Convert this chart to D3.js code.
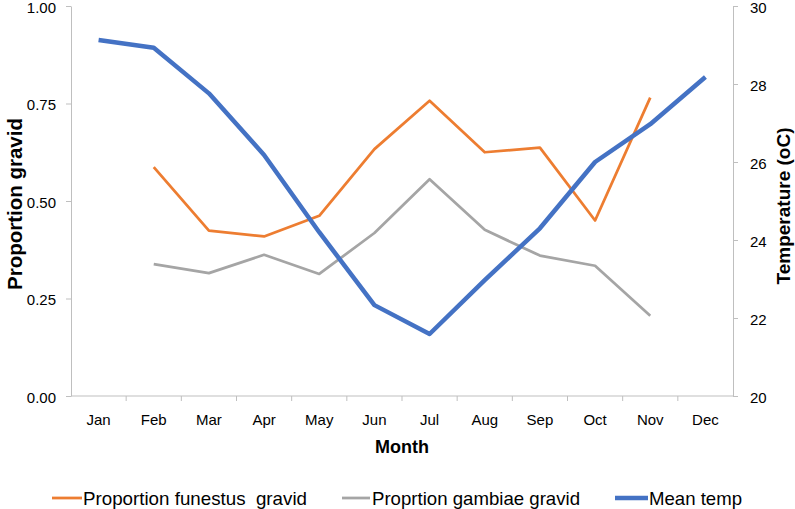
<!DOCTYPE html>
<html><head><meta charset="utf-8">
<script src="https://cdn.jsdelivr.net/npm/d3@7"></script>
<style>body{margin:0;background:#fff}svg{display:block}text{font-family:"Liberation Sans",Arial,sans-serif}</style>
</head><body>
<svg id="c" width="795" height="509"></svg>
<script>
const months = ["Jan","Feb","Mar","Apr","May","Jun","Jul","Aug","Sep","Oct","Nov","Dec"];
const funestus = [null,0.587,0.424,0.409,0.462,0.633,0.757,0.625,0.637,0.45,0.765,null];
const gambiae = [null,0.338,0.315,0.362,0.313,0.418,0.556,0.426,0.36,0.334,0.206,null];
const meanTemp = [29.13,28.93,27.76,26.18,24.2,22.33,21.59,22.97,24.3,26.0,26.97,28.18];
const leftTicks = [0,0.25,0.5,0.75,1];
const rightTicks = [20,22,24,26,28,30];

const svg = d3.select("#c");
const L=71,R=733,T=6,B=396;
const x = d3.scaleBand().domain(months).range([L,R]);
const yL = d3.scaleLinear().domain([0,1]).range([B,T]);
const yR = d3.scaleLinear().domain([20,30]).range([B,T]);
const axisCol="#bfbfbf";

function styleAxis(g){
  g.selectAll("path,line").attr("stroke",axisCol).attr("stroke-width",1);
  g.selectAll("text").attr("fill","#000").style("font-size","15px");
}
svg.append("g").attr("transform",`translate(${L},0)`)
  .call(d3.axisLeft(yL).tickValues(leftTicks).tickFormat(d3.format(".2f")).tickSize(5).tickSizeOuter(0).tickPadding(10))
  .call(styleAxis)
  .selectAll("text").attr("dy","0.42em");
svg.append("g").attr("transform",`translate(${R},0)`)
  .call(d3.axisRight(yR).tickValues(rightTicks).tickFormat(d3.format("d")).tickSize(5).tickSizeOuter(0).tickPadding(12))
  .call(styleAxis)
  .selectAll("text").attr("dy","0.42em");
const xg = svg.append("g").attr("transform",`translate(0,${B})`)
  .call(d3.axisBottom(x).tickSize(0).tickPadding(0))
  .call(styleAxis);
xg.selectAll(".tick text").attr("y",29).attr("dy","0");
xg.select(".domain").remove();
xg.append("line").attr("x1",L).attr("x2",R).attr("stroke",axisCol);
xg.selectAll(".bt").data(months.slice(1)).join("line")
  .attr("x1",d=>x(d)).attr("x2",d=>x(d)).attr("y1",0).attr("y2",5).attr("stroke",axisCol);

const cx = d=>x(d)+x.bandwidth()/2;
const lineL = d3.line().defined(d=>d.v!=null).x(d=>cx(d.m)).y(d=>yL(d.v));
const lineR = d3.line().x(d=>cx(d.m)).y(d=>yR(d.v));
const series = [
  {name:"Proportion funestus\u00a0 gravid", vals:funestus, col:"#ED7D31", w:2.75, gen:lineL},
  {name:"Proprtion gambiae gravid", vals:gambiae, col:"#A5A5A5", w:2.75, gen:lineL},
  {name:"Mean temp", vals:meanTemp, col:"#4472C4", w:4.5, gen:lineR}
];
series.forEach(s=>{
  svg.append("path").datum(s.vals.map((v,i)=>({m:months[i],v})))
    .attr("d",s.gen).attr("fill","none").attr("stroke",s.col).attr("stroke-width",s.w)
    .attr("stroke-linejoin","round");
});

svg.append("text").attr("x",402).attr("y",453).attr("text-anchor","middle")
  .style("font-size","18px").style("font-weight","bold").text("Month");
svg.append("text").attr("transform","translate(22,204) rotate(-90)").attr("text-anchor","middle")
  .style("font-size","20px").style("font-weight","bold")
  .attr("textLength",172).attr("lengthAdjust","spacingAndGlyphs").text("Proportion gravid");
svg.append("text").attr("transform","translate(790,206) rotate(-90)").attr("text-anchor","middle")
  .style("font-size","19px").style("font-weight","bold")
  .attr("textLength",157).attr("lengthAdjust","spacingAndGlyphs").text("Temperature (oC)");

const leg=[{lx:52,lw:30,tx:83,tl:224},{lx:342,lw:28,tx:372,tl:208},{lx:615,lw:33,tx:649,tl:93}];
series.forEach((s,i)=>{
  const p=leg[i];
  svg.append("line").attr("x1",p.lx).attr("x2",p.lx+p.lw).attr("y1",498).attr("y2",498)
    .attr("stroke",s.col).attr("stroke-width",s.w);
  svg.append("text").attr("x",p.tx).attr("y",505).style("font-size","18.5px")
    .attr("textLength",p.tl).attr("lengthAdjust","spacingAndGlyphs").text(s.name);
});
</script>
</body></html>
